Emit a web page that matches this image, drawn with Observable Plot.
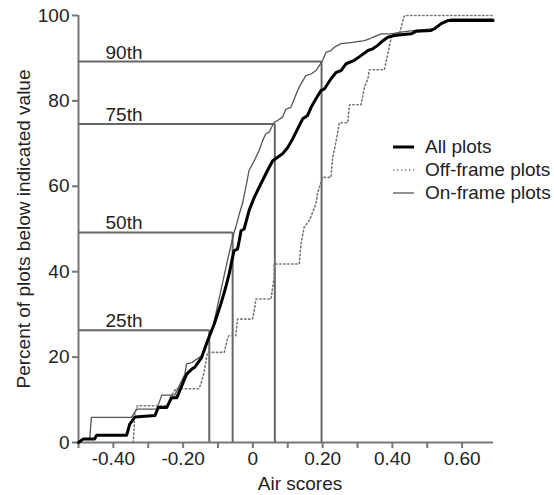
<!DOCTYPE html>
<html>
<head>
<meta charset="utf-8">
<script src="https://cdn.jsdelivr.net/npm/d3@7"></script>
<script src="https://cdn.jsdelivr.net/npm/@observablehq/plot@0.6"></script>
<style>
  html, body { margin: 0; padding: 0; background: #fff; }
  #wrap { position: relative; width: 554px; height: 495px; font-family: "Liberation Sans", Arial, sans-serif; }
  #legend { position: absolute; left: 392px; top: 135px; font-size: 19px; color: #222; line-height: 23px; }
  #legend .row { display: flex; align-items: center; white-space: nowrap; }
  #legend svg { margin-right: 10px; }
</style>
</head>
<body>
<div id="wrap"><div id="legend"></div></div>
<script>
// ---- data ----
const allX = [-0.5,-0.487,-0.454,-0.448,-0.362,-0.353,-0.338,-0.281,-0.271,-0.247,-0.233,-0.218,-0.190,-0.175,-0.167,-0.147,-0.130,-0.111,-0.092,-0.078,-0.068,-0.058,-0.054,-0.044,-0.039,-0.034,-0.025,-0.011,0.004,0.023,0.042,0.057,0.071,0.085,0.100,0.114,0.133,0.143,0.157,0.167,0.181,0.195,0.205,0.224,0.239,0.253,0.267,0.291,0.310,0.330,0.344,0.358,0.373,0.387,0.406,0.425,0.454,0.468,0.511,0.521,0.540,0.559,0.689];
const allY = [0,0.8,0.8,1.7,1.7,4.3,6.0,6.3,8.2,8.2,10.5,10.5,16.0,17.2,17.6,19.9,23.8,27.7,32.4,36.3,39.5,43.4,44.9,45.3,47.3,49.6,50.0,54.3,57.4,60.6,63.7,66.0,66.8,67.6,69.1,71.1,74.2,75.8,76.6,78.5,80.5,82.4,82.8,85.2,86.7,87.1,88.7,89.5,90.6,91.8,92.2,93.0,94.1,94.9,95.3,95.5,95.7,96.3,96.5,96.9,98.1,98.8,98.8];

const offX = [-0.343,-0.341,-0.339,-0.331,-0.244,-0.236,-0.221,-0.155,-0.149,-0.140,-0.130,-0.082,-0.073,-0.069,-0.049,-0.044,-0.001,0.004,0.009,0.052,0.061,0.061,0.133,0.138,0.147,0.162,0.181,0.186,0.200,0.224,0.229,0.239,0.248,0.272,0.277,0.310,0.320,0.330,0.334,0.377,0.387,0.397,0.401,0.420,0.430,0.435,0.689];
const offY = [0,2.7,6.7,8.6,8.6,10.7,12.6,12.6,13.7,16.4,21.1,21.1,24.2,25.0,25.0,28.9,28.9,30.9,33.6,33.6,38.7,41.8,41.8,46.5,50.4,52.0,55.9,58.6,62.1,62.1,66.8,70.7,74.9,74.9,79.1,79.1,83.2,85.2,87.3,87.3,91.0,94.9,95.7,95.7,98.8,100,100];

const onX = [-0.5,-0.487,-0.468,-0.463,-0.348,-0.333,-0.276,-0.261,-0.224,-0.195,-0.190,-0.175,-0.147,-0.130,-0.112,-0.092,-0.073,-0.054,-0.049,-0.039,-0.030,-0.020,-0.011,0.004,0.018,0.028,0.037,0.047,0.061,0.071,0.085,0.095,0.109,0.119,0.128,0.138,0.152,0.167,0.181,0.191,0.200,0.210,0.224,0.234,0.253,0.286,0.320,0.334,0.344,0.368,0.397,0.425,0.464,0.521,0.540,0.559,0.569,0.689];
const onY = [0,0.8,0.8,5.9,5.9,7.8,7.8,11.1,11.1,16.0,18.4,18.7,20.3,23.4,28.0,35.5,42.6,49.2,50.4,53.5,55.9,59.8,63.7,66.0,68.4,70.7,72.3,72.7,75.0,75.4,76.2,78.1,78.5,80.5,82.4,84.0,85.9,86.3,87.1,88.3,89.5,91.4,91.8,92.6,93.4,93.7,94.1,94.5,94.9,95.7,95.7,96.1,96.5,96.9,98.1,98.8,99.2,99.2];

const pctLabels = ["25th", "50th", "75th", "90th"];
const pctValues = [26.3, 49.2, 74.6, 89.2];
const pctScores = [-0.125, -0.058, 0.063, 0.197];

const xTicks = [-0.5,-0.4,-0.3,-0.2,-0.1,0,0.1,0.2,0.3,0.4,0.5,0.6];
const xLabelled = [-0.4,-0.2,0,0.2,0.4,0.6];
const yTicks = [0,20,40,60,80,100];

const seriesNames = ["All plots", "Off-frame plots", "On-frame plots"];

// ---- build tables ----
const toRows = (xs, ys) => xs.map((x, i) => ({x, y: ys[i]}));
const allRows = toRows(allX, allY);
const offRows = toRows(offX, offY);
const onRows = toRows(onX, onY);
const pct = pctLabels.map((label, i) => ({label, v: pctValues[i], s: pctScores[i]}));

const styles = {
  "All plots": {stroke: "#000", strokeWidth: 3, dash: null},
  "Off-frame plots": {stroke: "#777", strokeWidth: 1.6, dash: "1.4 2.6"},
  "On-frame plots": {stroke: "#555", strokeWidth: 1.3, dash: null}
};

const fmtX = d => xLabelled.some(v => Math.abs(v - d) < 1e-9) ? (Math.abs(d) < 1e-9 ? "0" : d.toFixed(2)) : "";

const chart = Plot.plot({
  width: 554,
  height: 495,
  marginLeft: 78,
  marginRight: 61,
  marginTop: 15,
  marginBottom: 53,
  style: {fontFamily: "'Liberation Sans', Arial, sans-serif", fontSize: "19px", color: "#222", background: "#fff", overflow: "visible"},
  x: {domain: [-0.5, 0.69]},
  y: {domain: [0, 100]},
  marks: [
    Plot.axisY(yTicks, {tickSize: 6, tickPadding: 3, label: null, stroke: "#777", strokeWidth: 2, fill: "#222", fontSize: 19}),
    Plot.axisX(xTicks, {tickSize: 6, tickPadding: 3, label: null, tickFormat: fmtX, stroke: "#777", strokeWidth: 2, fill: "#222", fontSize: 19}),
    Plot.ruleY([0], {stroke: "#777", strokeWidth: 2}),
    Plot.ruleX([-0.5], {stroke: "#777", strokeWidth: 2}),
    // percentile guides
    Plot.ruleY(pct, {y: "v", x1: -0.5, x2: "s", stroke: "#666", strokeWidth: 2}),
    Plot.ruleX(pct, {x: "s", y1: 0, y2: "v", stroke: "#666", strokeWidth: 2}),
    Plot.text(pct, {y: "v", text: "label", frameAnchor: "left", textAnchor: "start", lineAnchor: "bottom", dx: 27, dy: -3, fill: "#222", fontSize: 19}),
    // curves
    Plot.line(offRows, {x: "x", y: "y", stroke: styles["Off-frame plots"].stroke, strokeWidth: 1.6, strokeDasharray: "1.4 2.6"}),
    Plot.line(onRows, {x: "x", y: "y", stroke: styles["On-frame plots"].stroke, strokeWidth: 1.3}),
    Plot.line(allRows, {x: "x", y: "y", stroke: "#000", strokeWidth: 3, strokeLinejoin: "round"}),
    // axis titles
    Plot.text(["Air scores"], {frameAnchor: "bottom", lineAnchor: "middle", dx: 14, dy: 41, fill: "#222", fontSize: 19}),
    Plot.text(["Percent of plots below indicated value"], {frameAnchor: "left", textAnchor: "middle", rotate: -90, lineAnchor: "middle", dx: -55, fill: "#222", fontSize: 19})
  ]
});

const wrap = document.getElementById("wrap");
wrap.insertBefore(chart, wrap.firstChild);

// legend
const legend = document.getElementById("legend");
for (const name of seriesNames) {
  const st = styles[name];
  const row = document.createElement("div");
  row.className = "row";
  row.innerHTML = `<svg width="23" height="8"><line x1="1" x2="22" y1="4" y2="4" stroke="${st.stroke}" stroke-width="${st.strokeWidth}" ${st.dash ? `stroke-dasharray="${st.dash}"` : ""}/></svg><span>${name}</span>`;
  legend.appendChild(row);
}
</script>
</body>
</html>
